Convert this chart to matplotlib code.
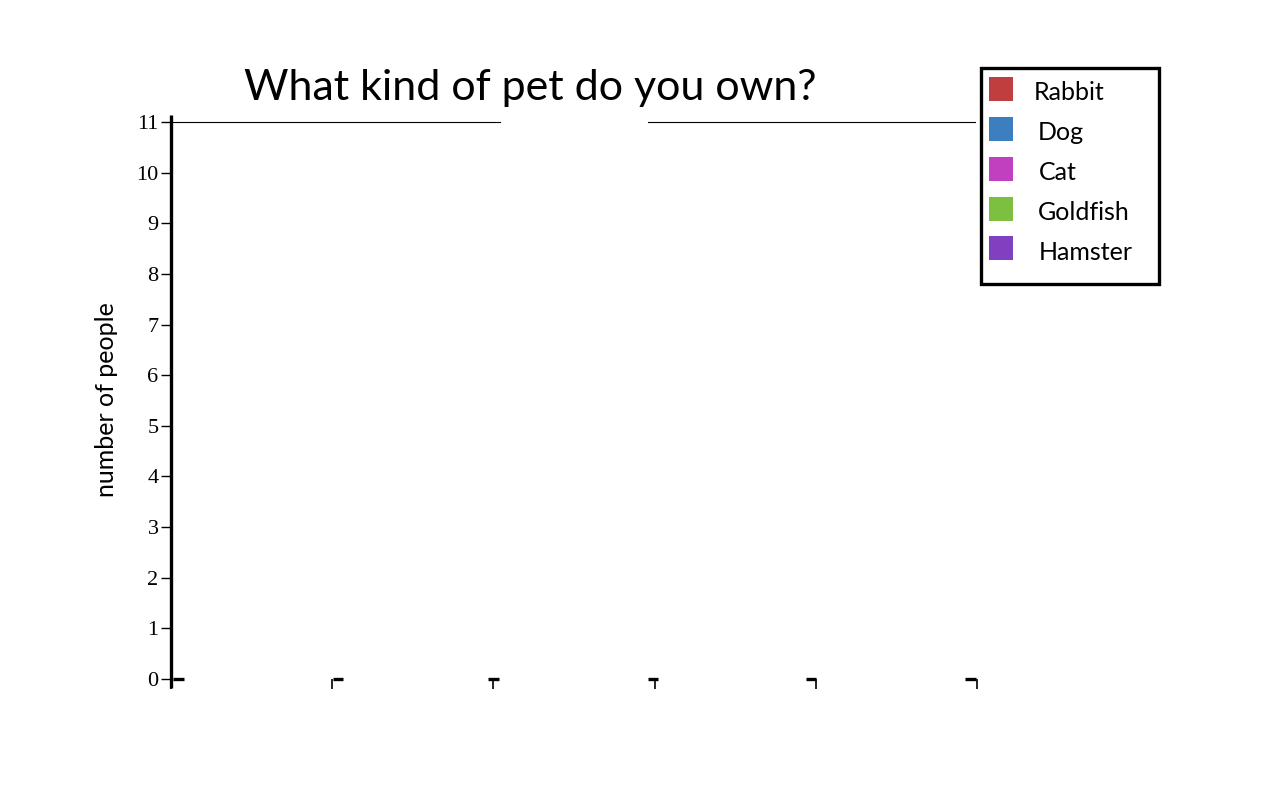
import matplotlib
matplotlib.use("Agg")
import matplotlib.pyplot as plt
from matplotlib.patches import Rectangle
from matplotlib.lines import Line2D

# ---- data ----
title = "What kind of pet do you own?"
ylabel = "number of people"
pets = ["Rabbit", "Dog", "Cat", "Goldfish", "Hamster"]
pet_colors = ["#C03F3E", "#3D7EC0", "#C040C0", "#7DC040", "#8040C0"]
y_ticks = list(range(0, 12))
x_ticks = [0, 1, 2, 3, 4, 5]
mark_centers = [0.047, 1.036, 2.0, 2.99, 3.97, 4.96]
mark_values = [0, 0, 0, 0, 0, 0]

SANS = "Lato"
W, H = 1274, 809
fig = plt.figure(figsize=(W / 100, H / 100), dpi=100)
L, R, T, B = 171, 977, 122, 679
ax = fig.add_axes([L / W, 1 - B / H, (R - L) / W, (B - T) / H])
ax.set_xlim(0, 5)
ax.set_ylim(0, 11)

for s in ["right", "bottom", "top", "left"]:
    ax.spines[s].set_visible(False)

# left thick axis line (extends slightly beyond the range)
ax.add_line(Line2D([0, 0], [-0.016, 1.013], transform=ax.transAxes,
                   color="black", lw=2.4, clip_on=False, solid_capstyle="butt"))
# top thin line with a gap behind the title
ax.add_line(Line2D([0, (500 - L) / (R - L)], [1, 1], transform=ax.transAxes,
                   color="black", lw=0.8, clip_on=False))
ax.add_line(Line2D([(648 - L) / (R - L), (975 - L) / (R - L)], [1, 1], transform=ax.transAxes,
                   color="black", lw=0.8, clip_on=False))

# zero-height marks
seg_w = 0.066
ax.hlines(mark_values,
          [c - seg_w / 2 for c in mark_centers],
          [c + seg_w / 2 for c in mark_centers],
          colors="black", lw=2.4, clip_on=False)

ax.set_yticks(y_ticks)
ax.set_yticklabels([str(t) for t in y_ticks], fontfamily="Liberation Serif", fontsize=16)
ax.tick_params(axis="y", length=7, width=1, pad=2, color="black")
ax.set_xticks(x_ticks)
ax.set_xticklabels([])
ax.tick_params(axis="x", length=7, width=1.2, color="black")

fig.text(530 / W, 1 - 100 / H, title, ha="center", va="baseline",
         fontfamily=SANS, fontsize=31)
fig.text(106 / W, 1 - 400 / H, ylabel, ha="center", va="center", rotation=90,
         fontfamily=SANS, fontsize=18)

# legend box
fig.patches.append(Rectangle((981 / W, 1 - 284 / H), 178 / W, 216 / H,
                             transform=fig.transFigure, facecolor="white",
                             edgecolor="black", lw=2.4))
text_x = [1034, 1038, 1039, 1038, 1039]
for i, (p, c) in enumerate(zip(pets, pet_colors)):
    top = 77 + i * 40 - (1 if i == 4 else 0)
    fig.patches.append(Rectangle((989 / W, 1 - (top + 24) / H), 24 / W, 24 / H,
                                 transform=fig.transFigure, facecolor=c, edgecolor="none"))
    fig.text(text_x[i] / W, 1 - (100 + i * 40) / H, p, ha="left", va="baseline",
             fontfamily=SANS, fontsize=18)

fig.savefig("out.png", dpi=100)
